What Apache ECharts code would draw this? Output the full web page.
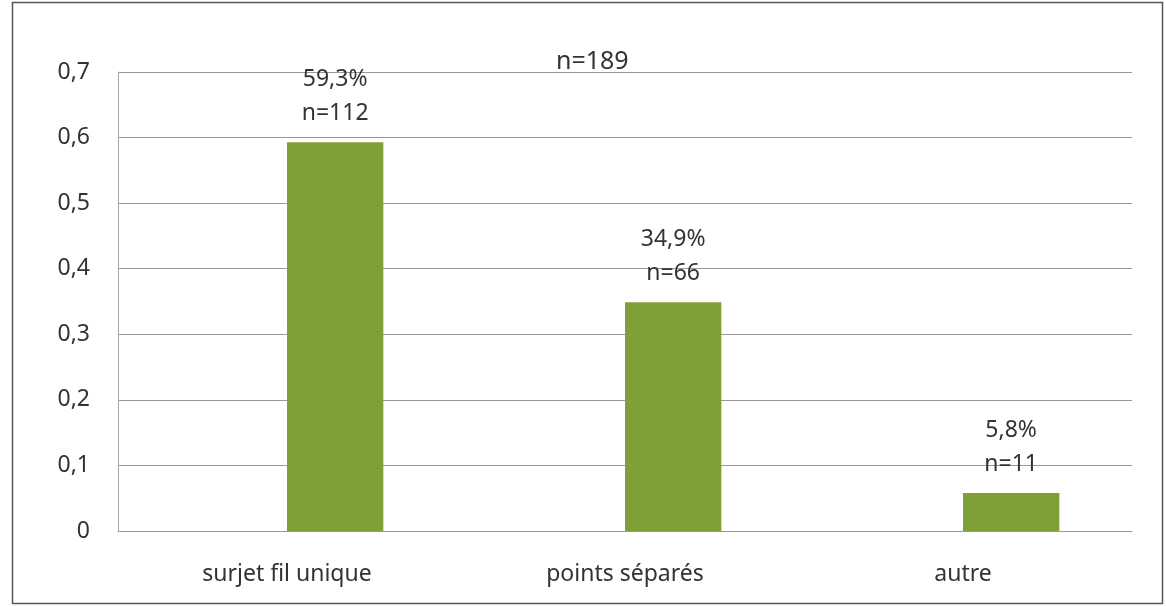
<!DOCTYPE html>
<html><head><meta charset="utf-8">
<script src="https://cdn.jsdelivr.net/npm/echarts@6/dist/echarts.min.js"></script>
<style>html,body{margin:0;padding:0;background:#fff}#c{width:1166px;height:607px}</style>
</head><body><div id="c"></div>
<script>
const categories = ['surjet fil unique', 'points séparés', 'autre'];
const values = [0.593, 0.349, 0.058];
const counts = [112, 66, 11];
const emptySeries = [null, null, null];
const total = 189;
const yTicks = [0, 0.1, 0.2, 0.3, 0.4, 0.5, 0.6, 0.7];

const chart = echarts.init(document.getElementById('c'));
const font = '"Noto Sans", sans-serif';
chart.setOption({
  animation: false,
  backgroundColor: '#fff',
  title: {
    text: 'n=' + total, left: 551, top: 44,
    textStyle: {fontFamily: font, fontSize: 25, fontWeight: 'normal', color: '#333'}
  },
  grid: {left: 118, right: 34, top: 72, bottom: 76},
  xAxis: {
    type: 'category', data: categories,
    axisLine: {lineStyle: {color: '#999', width: 1}},
    axisTick: {show: false},
    axisLabel: {fontFamily: font, fontSize: 23, color: '#333', margin: 32}
  },
  yAxis: {
    type: 'value', min: 0, max: 0.7, interval: 0.1,
    axisLine: {show: true, lineStyle: {color: '#aaa', width: 1}},
    axisTick: {show: false},
    splitLine: {lineStyle: {color: '#999', width: 1}},
    axisLabel: {
      fontFamily: font, fontSize: 23, color: '#333', margin: 28,
      formatter: v => {
        const t = yTicks.find(x => Math.abs(x - v) < 1e-9);
        return t === 0 ? '0' : String(+v.toFixed(1)).replace('.', ',');
      }
    }
  },
  series: [{
    type: 'bar', data: emptySeries, barGap: '0%', barCategoryGap: '43%',
    itemStyle: {color: 'transparent'}
  }, {
    type: 'bar', data: values, barGap: '0%', barCategoryGap: '43%',
    itemStyle: {color: '#7f9f38'},
    label: {
      show: true, position: 'top', distance: 12,
      fontFamily: font, fontSize: 23, color: '#333', lineHeight: 34, align: 'center',
      formatter: p => (values[p.dataIndex] * 100).toFixed(1).replace('.', ',') + '%\nn=' + counts[p.dataIndex]
    }
  }],
  graphic: [{
    type: 'rect', shape: {x: 12.5, y: 2.5, width: 1150, height: 601},
    style: {fill: 'none', stroke: '#555', lineWidth: 1.5}, silent: true
  }]
});
</script></body></html>
